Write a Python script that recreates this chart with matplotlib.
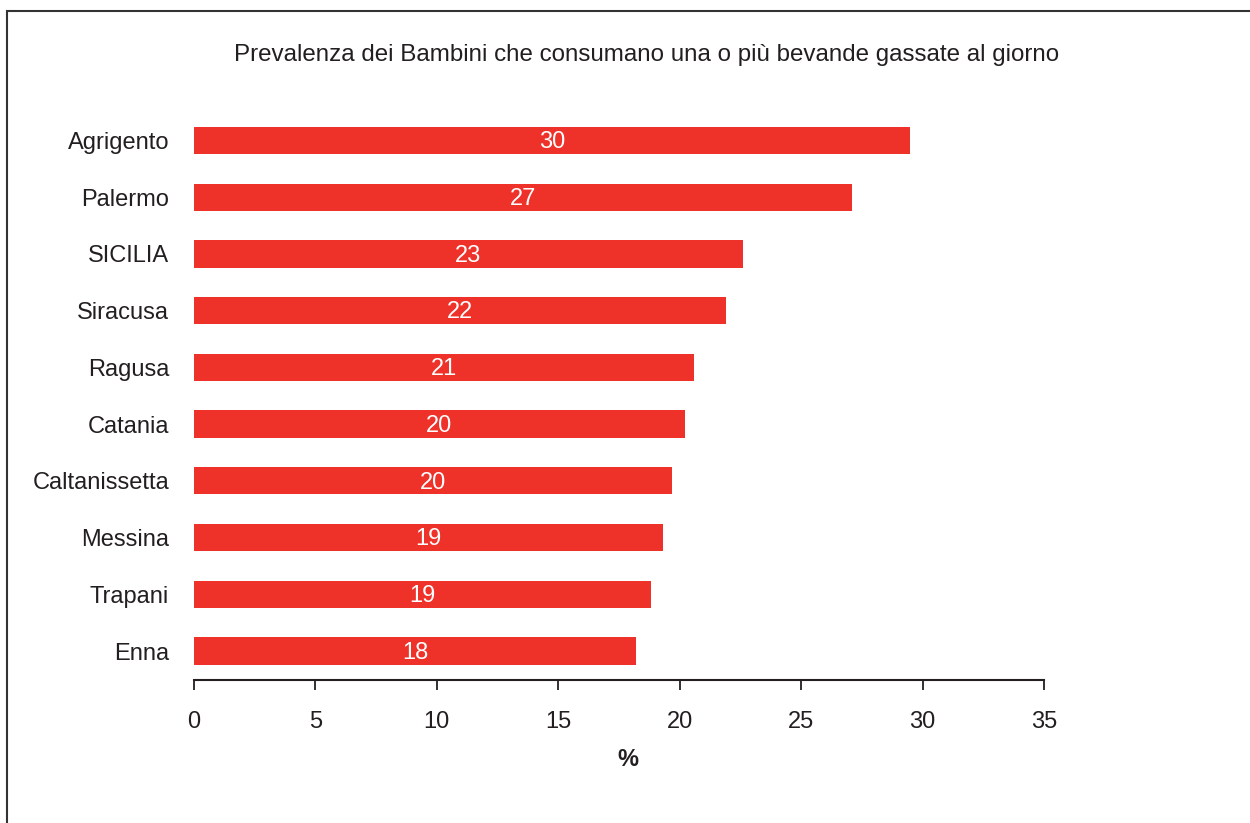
import matplotlib.pyplot as plt
from matplotlib.patches import Rectangle

plt.rcParams['font.family'] = ['Liberation Sans', 'DejaVu Sans']

province = ['Agrigento', 'Palermo', 'SICILIA', 'Siracusa', 'Ragusa',
            'Catania', 'Caltanissetta', 'Messina', 'Trapani', 'Enna']
prevalenza = [29.5, 27.1, 22.6, 21.9, 20.6, 20.2, 19.7, 19.3, 18.8, 18.2]
ticks_x = [0, 5, 10, 15, 20, 25, 30, 35]

rosso = '#EE3129'
testo = '#231F20'
fs = 17

fig = plt.figure(figsize=(12.5, 8.23), dpi=100)
ax = fig.add_axes([0.1552, 0.1738, 0.68, 0.690])

# cornice esterna
fig.patches.append(Rectangle((7 / 1250, -0.1), 1.2, 1 - 11 / 823 + 0.1,
                             transform=fig.transFigure, fill=False,
                             edgecolor='#333333', linewidth=1.5))

pos = list(range(len(province)))[::-1]
ax.barh(pos, prevalenza, height=0.48, color=rosso)

for p, v in zip(pos, prevalenza):
    ax.text(v / 2, p - 0.03, f'{v:.0f}', color='white', fontsize=fs,
            ha='center', va='center')

ax.set_xlim(0, 35)
ax.set_ylim(-0.51, len(province) - 0.5)
ax.set_xticks(ticks_x)
ax.set_yticks(pos)
ax.set_yticklabels(province)

for s in ['top', 'right', 'left']:
    ax.spines[s].set_visible(False)
ax.spines['bottom'].set_color(testo)
ax.spines['bottom'].set_linewidth(1.5)
ax.tick_params(axis='y', length=0, pad=18, labelsize=fs, labelcolor=testo)
ax.tick_params(axis='x', direction='out', length=7, width=1.3, color=testo,
               pad=15, labelsize=fs, labelcolor=testo)

ax.set_xlabel('%', fontsize=fs, fontweight='bold', color=testo, labelpad=11)
ax.xaxis.label.set_x(0.51)
fig.text(0.517, 1 - 55 / 823, 'Prevalenza dei Bambini che consumano una o più bevande gassate al giorno',
         ha='center', va='center', fontsize=17.4, color=testo)

fig.savefig('out.png', dpi=100)
